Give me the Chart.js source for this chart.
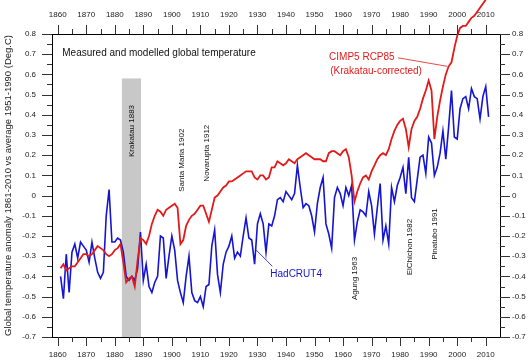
<!DOCTYPE html>
<html>
<head>
<meta charset="utf-8">
<title>Measured and modelled global temperature</title>
<script src="https://cdn.jsdelivr.net/npm/chart.js@4.4.1/dist/chart.umd.min.js"></script>
<style>
  html, body { margin: 0; padding: 0; background: #fff; }
  canvas { display: block; }
</style>
</head>
<body>
<canvas id="tempChart" width="530" height="362"></canvas>
<script>
'use strict';

var firstYear = 1861;

// HadCRUT4 annual anomaly, 1861-2011
var hadcrut4 = [
    -0.40, -0.51, -0.29, -0.48, -0.28, -0.24, -0.31, -0.23, -0.25, -0.27,
    -0.33, -0.23, -0.31, -0.38, -0.41, -0.38, -0.10,  0.03, -0.23, -0.23,
    -0.21, -0.22, -0.28, -0.40, -0.42, -0.40, -0.42, -0.36, -0.18, -0.42,
    -0.34, -0.45, -0.48, -0.43, -0.40, -0.20, -0.21, -0.41, -0.30, -0.20,
    -0.27, -0.42, -0.48, -0.53, -0.40, -0.30, -0.48, -0.52, -0.53, -0.50,
    -0.55, -0.45, -0.44, -0.25, -0.17, -0.39, -0.48, -0.34, -0.28, -0.25,
    -0.20, -0.31, -0.28, -0.30, -0.20, -0.11, -0.21, -0.22, -0.34, -0.14,
    -0.09, -0.14, -0.28, -0.14, -0.15, -0.10, -0.02, -0.01, -0.03,  0.02,
     0.00, -0.02,  0.01,  0.15,  0.04, -0.06, -0.04, -0.05, -0.10, -0.18,
    -0.04,  0.04,  0.09, -0.14, -0.19, -0.26, -0.01,  0.04,  0.01, -0.05,
     0.04,  0.00,  0.05, -0.22, -0.13, -0.07, -0.08, -0.10,  0.02, -0.05,
    -0.19, -0.06,  0.06, -0.22, -0.15, -0.24,  0.04, -0.03,  0.05,  0.09,
     0.14,  0.01,  0.19, -0.01, -0.03,  0.08,  0.19,  0.20,  0.11,  0.29,
     0.26,  0.10,  0.14,  0.21,  0.32,  0.18,  0.34,  0.52,  0.29,  0.28,
     0.43,  0.48,  0.49,  0.43,  0.53,  0.49,  0.48,  0.38,  0.49,  0.54,
     0.39
];

// CIMP5 RCP85 model mean (Krakatau-corrected), 1861-2011
var cmip5 = [
    -0.36, -0.34, -0.37, -0.36, -0.35, -0.35, -0.33, -0.31, -0.29, -0.29,
    -0.30, -0.29, -0.27, -0.25, -0.26, -0.27, -0.29, -0.30, -0.29, -0.27,
    -0.26, -0.24, -0.33, -0.43, -0.41, -0.40, -0.45, -0.32, -0.21, -0.22,
    -0.24, -0.20, -0.14, -0.10, -0.07, -0.08, -0.10, -0.07, -0.06, -0.05,
    -0.04, -0.06, -0.24, -0.22, -0.15, -0.12, -0.10, -0.09, -0.07, -0.05,
    -0.05, -0.09, -0.13, -0.07, -0.01,  0.00,  0.02,  0.04,  0.05,  0.07,
     0.07,  0.08,  0.09,  0.10,  0.11,  0.12,  0.12,  0.12,  0.09,  0.08,
     0.10,  0.10,  0.08,  0.09,  0.14,  0.14,  0.17,  0.16,  0.15,  0.16,
     0.18,  0.17,  0.16,  0.18,  0.19,  0.20,  0.21,  0.20,  0.19,  0.18,
     0.18,  0.18,  0.17,  0.17,  0.21,  0.22,  0.22,  0.21,  0.20,  0.22,
     0.23,  0.19,  0.10, -0.03,  0.02,  0.06,  0.09,  0.10,  0.08,  0.12,
     0.15,  0.18,  0.20,  0.21,  0.20,  0.23,  0.28,  0.32,  0.35,  0.37,
     0.38,  0.33,  0.24,  0.33,  0.37,  0.39,  0.43,  0.48,  0.52,  0.57,
     0.52,  0.28,  0.39,  0.47,  0.54,  0.60,  0.64,  0.66,  0.73,  0.79,
     0.83,  0.84,  0.84,  0.86,  0.88,  0.89,  0.91,  0.93,  0.95,  0.97,
     1.00
];

var yearTicks = [1860, 1870, 1880, 1890, 1900, 1910, 1920, 1930, 1940, 1950,
                 1960, 1970, 1980, 1990, 2000, 2010];
var tempTicks = [0.8, 0.7, 0.6, 0.5, 0.4, 0.3, 0.2, 0.1, 0, -0.1, -0.2,
                 -0.3, -0.4, -0.5, -0.6, -0.7];

// Krakatau shading: [from year, to year], top value
var krakatauBand = [1882.5, 1889.2];
var krakatauTop = 0.58;

// eruption labels and where they sit (year, value of text centre)
var volcanoNames = ['Krakatau 1883', 'Santa Maria 1902', 'Novarupta 1912',
                    'Agung 1963', 'ElChichon 1982', 'Pinatubo 1991'];
var volcanoAt = [[1885.8, 0.32], [1903.6, 0.175], [1912.1, 0.21],
                 [1964.2, -0.41], [1983.5, -0.255], [1992.2, -0.19]];

var fontFamily = '"Liberation Sans", Arial, Helvetica, sans-serif';
var red = '#e31a1a';
var blue = '#1414d2';

var years = hadcrut4.map(function (v, i) { return firstYear + i; });

function points(values) {
    return values.map(function (v, i) { return { x: years[i], y: v }; });
}

function fmtTemp(v) {
    return String(parseFloat(Number(v).toFixed(1)));
}

var decorations = {
    id: 'decorations',
    beforeDatasetsDraw: function (chart) {
        var ctx = chart.ctx;
        var x = chart.scales.x;
        var y = chart.scales.y;
        ctx.save();

        // grey band for Krakatau
        var bx0 = x.getPixelForValue(krakatauBand[0]);
        var bx1 = x.getPixelForValue(krakatauBand[1]);
        var by0 = y.getPixelForValue(krakatauTop);
        var by1 = y.getPixelForValue(-0.7);
        ctx.fillStyle = '#c8c8c8';
        ctx.fillRect(bx0, by0, bx1 - bx0, by1 - by0);

        // chart heading inside the plot
        ctx.fillStyle = '#111';
        ctx.font = '10px ' + fontFamily;
        ctx.textAlign = 'left';
        ctx.textBaseline = 'middle';
        ctx.fillText('Measured and modelled global temperature',
            x.getPixelForValue(1861.6), y.getPixelForValue(0.707));

        // eruption labels, vertical
        ctx.font = '8px ' + fontFamily;
        ctx.textAlign = 'center';
        volcanoNames.forEach(function (name, i) {
            ctx.save();
            ctx.translate(x.getPixelForValue(volcanoAt[i][0]), y.getPixelForValue(volcanoAt[i][1]));
            ctx.rotate(-Math.PI / 2);
            ctx.fillText(name, 0, 0);
            ctx.restore();
        });

        // series labels with leader lines
        ctx.font = '10px ' + fontFamily;
        ctx.textAlign = 'left';
        ctx.fillStyle = red;
        ctx.fillText('CIMP5 RCP85', x.getPixelForValue(1955.1), y.getPixelForValue(0.687));
        ctx.fillText('(Krakatau-corrected)', x.getPixelForValue(1955.5), y.getPixelForValue(0.618));
        ctx.strokeStyle = red;
        ctx.lineWidth = 0.8;
        ctx.beginPath();
        ctx.moveTo(x.getPixelForValue(1979.3), y.getPixelForValue(0.682));
        ctx.lineTo(x.getPixelForValue(1996.5), y.getPixelForValue(0.64));
        ctx.stroke();

        ctx.fillStyle = blue;
        ctx.fillText('HadCRUT4', x.getPixelForValue(1934.5), y.getPixelForValue(-0.39));
        ctx.strokeStyle = blue;
        ctx.beginPath();
        ctx.moveTo(x.getPixelForValue(1929.6), y.getPixelForValue(-0.27));
        ctx.lineTo(x.getPixelForValue(1935.2), y.getPixelForValue(-0.35));
        ctx.stroke();

        ctx.restore();
    },
    afterDraw: function (chart) {
        // outward tick marks on all four sides
        var ctx = chart.ctx;
        var a = chart.chartArea;
        var x = chart.scales.x;
        var y = chart.scales.y;
        ctx.save();
        ctx.strokeStyle = '#333';
        ctx.lineWidth = 1;
        ctx.beginPath();
        for (var yr = 1860; yr <= 2010; yr += 5) {
            var px = Math.round(x.getPixelForValue(yr)) + 0.5;
            var len = yr % 10 === 0 ? 9 : 5;
            ctx.moveTo(px, a.top);
            ctx.lineTo(px, a.top - len);
            ctx.moveTo(px, a.bottom);
            ctx.lineTo(px, a.bottom + len);
        }
        for (var i = -14; i <= 16; i++) {
            var py = Math.round(y.getPixelForValue(i / 20)) + 0.5;
            var l = i % 2 === 0 ? 10 : 5;
            ctx.moveTo(a.left, py);
            ctx.lineTo(a.left - l, py);
            ctx.moveTo(a.right, py);
            ctx.lineTo(a.right + l, py);
        }
        ctx.stroke();
        ctx.restore();
    }
};

var tickFont = { family: fontFamily, size: 8 };

function yearAxis(position, padding, height) {
    return {
        type: 'linear',
        position: position,
        min: 1858,
        max: 2015,
        grid: { display: false, drawTicks: false },
        border: { display: true, color: '#000', width: 1 },
        afterBuildTicks: function (s) {
            s.ticks = yearTicks.map(function (v) { return { value: v }; });
        },
        afterFit: function (s) { s.height = height; },
        ticks: {
            autoSkip: false,
            maxRotation: 0,
            padding: padding,
            color: '#222',
            font: tickFont,
            callback: function (v) { return String(v); }
        }
    };
}

function tempAxis(position, padding, width, withTitle) {
    return {
        type: 'linear',
        position: position,
        min: -0.7,
        max: 0.8,
        grid: { display: false, drawTicks: false },
        border: { display: true, color: '#000', width: 1 },
        afterBuildTicks: function (s) {
            s.ticks = tempTicks.map(function (v) { return { value: v }; });
        },
        afterFit: function (s) { s.width = width; },
        title: {
            display: withTitle,
            text: 'Global temperature anomaly 1861-2010 vs average 1951-1990 (Deg.C)',
            color: '#222',
            font: { family: fontFamily, size: 9.5 },
            padding: { top: 3, bottom: 0 }
        },
        ticks: {
            autoSkip: false,
            padding: padding,
            color: '#222',
            font: tickFont,
            callback: fmtTemp
        }
    };
}

var tempChart = new Chart(document.getElementById('tempChart'), {
    type: 'line',
    data: {
        datasets: [
            {
                label: 'CIMP5 RCP85 (Krakatau-corrected)',
                data: points(cmip5),
                borderColor: red,
                borderWidth: 1.8,
                pointRadius: 0,
                tension: 0,
                clip: false,
                xAxisID: 'x',
                yAxisID: 'y'
            },
            {
                label: 'HadCRUT4',
                data: points(hadcrut4),
                borderColor: blue,
                borderWidth: 1.6,
                pointRadius: 0,
                tension: 0,
                xAxisID: 'x',
                yAxisID: 'y'
            }
        ]
    },
    options: {
        responsive: false,
        animation: false,
        devicePixelRatio: 1,
        layout: { padding: 0 },
        plugins: {
            legend: { display: false },
            title: { display: false },
            tooltip: { enabled: false }
        },
        scales: {
            x: yearAxis('bottom', 13, 25),
            xTop: yearAxis('top', 14, 34),
            y: tempAxis('left', 16, 52, true),
            yRight: tempAxis('right', 12, 30, false)
        }
    },
    plugins: [decorations]
});
</script>
</body>
</html>
